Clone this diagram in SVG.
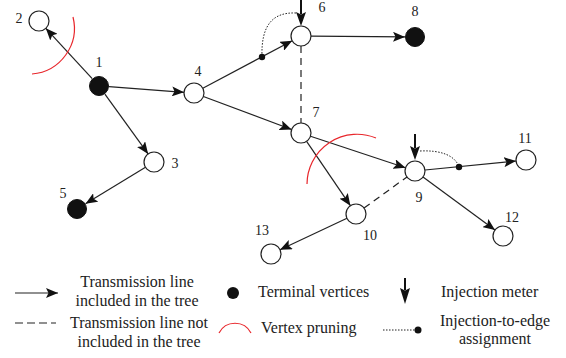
<svg xmlns="http://www.w3.org/2000/svg" width="566" height="358" viewBox="0 0 566 358">
<style>
text{font-family:"Liberation Serif","Times New Roman",serif;fill:#222}
.lbl{font-size:14px;text-anchor:middle}
.leg{font-size:16px}
.c{text-anchor:middle}
.open{fill:#fff;stroke:#222;stroke-width:1.2}
.term{fill:#111;stroke:#111;stroke-width:1}
.e{stroke:#222;stroke-width:1.2;fill:none;marker-end:url(#ah)}
.d{stroke:#222;stroke-width:1.2;fill:none;stroke-dasharray:7 5}
.dot{stroke:#222;stroke-width:1;fill:none;stroke-dasharray:1.5 1.5}
.red{stroke:#e8262b;stroke-width:1.2;fill:none}
.inj{stroke:#111;stroke-width:2;fill:none;marker-end:url(#big)}
</style>
<defs>
<marker id="ah" viewBox="0 0 12 10" refX="12" refY="5" markerWidth="12" markerHeight="10" markerUnits="userSpaceOnUse" orient="auto">
<path d="M0,0 L12,5 L0,10 L2.5,5 Z" fill="#111"/>
</marker>
<marker id="big" viewBox="0 0 12 16" refX="6" refY="16" markerWidth="12" markerHeight="16" markerUnits="userSpaceOnUse" orient="auto-start-reverse">
<path d="M0,0 L6,16 L12,0 L6,3 Z" fill="#111" transform="rotate(-90 6 8) translate(0 0)"/>
</marker>
</defs>
<g id="connectors">
<line class="e" x1="92.2" y1="78.7" x2="45.8" y2="28.3"/>
<line class="e" x1="109" y1="86.7" x2="184" y2="92.3"/>
<line class="e" x1="104.9" y1="94.1" x2="148.1" y2="153.9"/>
<line class="e" x1="145.5" y1="167.2" x2="85.5" y2="203.8"/>
<line class="e" x1="202.8" y1="88.3" x2="292.2" y2="40.7"/>
<line class="e" x1="203.4" y1="96.5" x2="291.6" y2="129.5"/>
<line class="e" x1="311" y1="36.1" x2="405" y2="36.9"/>
<line class="d" x1="301" y1="46" x2="301" y2="123"/>
<line class="e" x1="310.5" y1="136.2" x2="405.5" y2="167.8"/>
<line class="e" x1="306.6" y1="141.3" x2="350.4" y2="205.7"/>
<line class="e" x1="425" y1="170" x2="516" y2="161"/>
<line class="e" x1="423" y1="176.9" x2="495" y2="230.1"/>
<line class="e" x1="347" y1="218.3" x2="280" y2="249.7"/>
<line class="d" x1="364" y1="208.1" x2="407" y2="176.9"/>
<path class="dot" d="M296,13 C272,12 261,26 262,57"/>
<circle cx="262" cy="57" r="3.2" fill="#111"/>
<path class="dot" d="M420,151 C440,150 455,155 459,167"/>
<circle cx="459" cy="167" r="3.2" fill="#111"/>
<path class="red" d="M73,17 A46,46 0 0 1 32,74"/>
<path class="red" d="M307,184 A50,50 0 0 1 376,138"/>
</g>
<g id="inj6"><line x1="301" y1="0" x2="301" y2="14" stroke="#111" stroke-width="2"/><path d="M296,12 L301,26 L306,12 L301,14.5 Z" fill="#111"/></g>
<g id="inj9"><line x1="415" y1="134" x2="415" y2="148" stroke="#111" stroke-width="2"/><path d="M410,146 L415,160 L420,146 L415,148.5 Z" fill="#111"/></g>
<g id="n1"><circle class="term" cx="99" cy="86" r="9.5"/><text class="lbl" x="99" y="67">1</text></g>
<g id="n2"><circle class="open" cx="39" cy="21" r="10"/><text class="lbl" x="19" y="23">2</text></g>
<g id="n3"><circle class="open" cx="154" cy="162" r="10"/><text class="lbl" x="175" y="168">3</text></g>
<g id="n4"><circle class="open" cx="194" cy="93" r="10"/><text class="lbl" x="198" y="76">4</text></g>
<g id="n5"><circle class="term" cx="77" cy="209" r="9.5"/><text class="lbl" x="63" y="198">5</text></g>
<g id="n6"><circle class="open" cx="301" cy="36" r="10"/><text class="lbl" x="322" y="12">6</text></g>
<g id="n7"><circle class="open" cx="301" cy="133" r="10"/><text class="lbl" x="316" y="117">7</text></g>
<g id="n8"><circle class="term" cx="415" cy="37" r="9.5"/><text class="lbl" x="415" y="16">8</text></g>
<g id="n9"><circle class="open" cx="415" cy="171" r="10"/><text class="lbl" x="419" y="202">9</text></g>
<g id="n10"><circle class="open" cx="356" cy="214" r="10"/><text class="lbl" x="370" y="240">10</text></g>
<g id="n11"><circle class="open" cx="526" cy="160" r="10"/><text class="lbl" x="525" y="143">11</text></g>
<g id="n12"><circle class="open" cx="503" cy="236" r="10"/><text class="lbl" x="512" y="222">12</text></g>
<g id="n13"><circle class="open" cx="271" cy="254" r="10"/><text class="lbl" x="262" y="235">13</text></g>
<g id="legend">
<line class="e" x1="15" y1="293" x2="58" y2="293"/>
<text class="leg c" x="137" y="287">Transmission line</text>
<text class="leg c" x="137" y="306">included in the tree</text>
<line class="d" x1="15" y1="323" x2="56" y2="323" style="stroke-dasharray:8 4"/>
<text class="leg c" x="139" y="328">Transmission line not</text>
<text class="leg c" x="139" y="347">included in the tree</text>
<circle cx="233" cy="293" r="6" fill="#111"/>
<text class="leg" x="258" y="297">Terminal vertices</text>
<path class="red" d="M219,333 A18,18 0 0 1 251,333"/>
<text class="leg" x="261" y="333">Vertex pruning</text>
<line x1="405" y1="278" x2="405" y2="290" stroke="#111" stroke-width="2"/>
<path d="M400,288 L405,304 L410,288 L405,290.5 Z" fill="#111"/>
<text class="leg" x="441" y="297">Injection meter</text>
<line class="dot" x1="383" y1="330" x2="416" y2="330"/>
<circle cx="418" cy="330" r="3.5" fill="#111"/>
<text class="leg c" x="495" y="326">Injection-to-edge</text>
<text class="leg c" x="495" y="344">assignment</text>
</g>
</svg>
